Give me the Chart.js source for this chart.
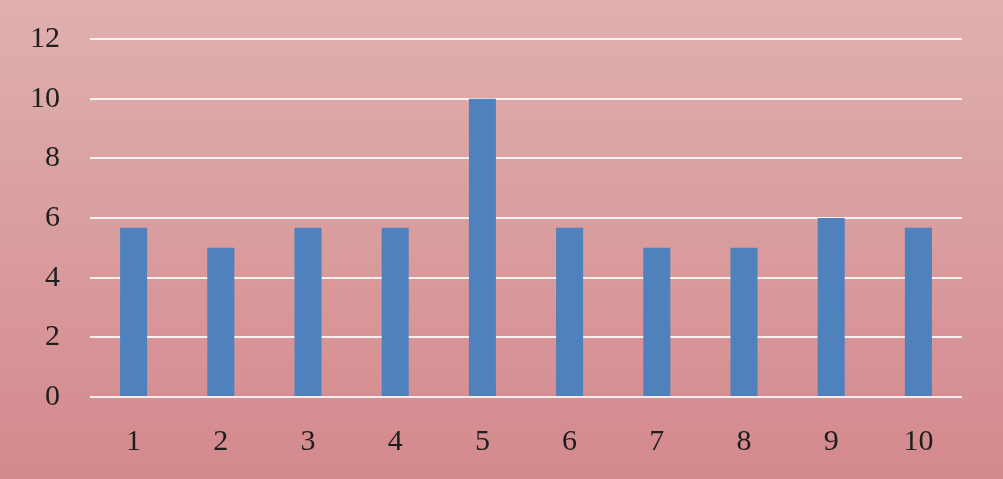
<!DOCTYPE html>
<html>
<head>
<meta charset="utf-8">
<script src="https://cdn.jsdelivr.net/npm/chart.js@4"></script>
<style>
  html, body { margin: 0; padding: 0; }
  #wrap { width: 1003px; height: 479px; }
</style>
</head>
<body>
<div id="wrap"><canvas id="barChart"></canvas></div>
<script>
const categories = ["1", "2", "3", "4", "5", "6", "7", "8", "9", "10"];
const values = [5.67, 5, 5.67, 5.67, 10, 5.67, 5, 5, 6, 5.67];

const backgroundPlugin = {
  id: "pinkBackground",
  beforeDraw(chart) {
    const ctx = chart.ctx;
    const g = ctx.createLinearGradient(0, 0, 0, chart.height);
    g.addColorStop(0, "#dfb0af");
    g.addColorStop(1, "#d4898d");
    ctx.save();
    ctx.fillStyle = g;
    ctx.fillRect(0, 0, chart.width, chart.height);
    ctx.restore();
  }
};

new Chart(document.getElementById("barChart"), {
  type: "bar",
  data: {
    labels: categories,
    datasets: [
      {
        data: values,
        backgroundColor: "#4f81bd",
        barPercentage: 0.31,
        categoryPercentage: 1
      }
    ]
  },
  options: {
    responsive: true,
    maintainAspectRatio: false,
    animation: false,
    layout: {
      padding: { left: 0, right: 41, top: 9, bottom: 0 }
    },
    plugins: {
      legend: { display: false },
      tooltip: { enabled: false }
    },
    scales: {
      x: {
        grid: { display: false },
        border: { display: false },
        ticks: {
          color: "#1e1e1e",
          padding: 19,
          font: { family: "Liberation Serif", size: 30 }
        }
      },
      y: {
        min: 0,
        max: 12,
        ticks: {
          stepSize: 2,
          color: "#1e1e1e",
          padding: 30,
          font: { family: "Liberation Serif", size: 30, lineHeight: 0.6 }
        },
        grid: {
          color: "rgba(255,255,255,0.85)",
          lineWidth: 2,
          drawTicks: false
        },
        border: { display: false }
      }
    }
  },
  plugins: [backgroundPlugin]
});
</script>
</body>
</html>
